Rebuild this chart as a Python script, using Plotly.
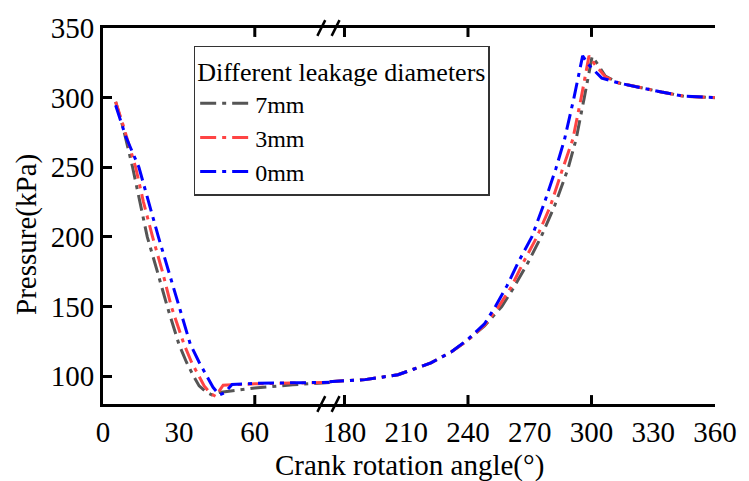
import plotly.graph_objects as go

# ---------------- data ----------------
series_names = ["7mm", "3mm", "0mm"]
series_colors = ["#555555", "#ff4444", "#0000ff"]

# left segment (0 - 90 deg)
left_angle_7mm = [5, 8, 11.7, 14.5, 17.5, 21.5, 25.4, 30, 33, 35.8, 38, 40.5, 43, 46, 60, 75, 90]
left_p_7mm = [297, 278, 250, 225, 200, 175, 150, 123, 110, 100, 93, 89, 86.5, 88.3, 91.5, 93.8, 95.5]
left_angle_3mm = [5, 8, 12.9, 16, 19.6, 23.5, 27, 32, 35, 37.8, 40, 42.5, 44.5, 47.5, 60, 75, 90]
left_p_3mm = [297, 280, 250, 225, 200, 175, 150, 123, 110, 100, 93, 87.5, 85.5, 93.5, 94.5, 95, 95.5]
left_angle_0mm = [5, 9, 14.2, 18, 21.9, 26, 30, 34.5, 38, 41, 43.5, 46, 48, 51, 60, 75, 90]
left_p_0mm = [294.5, 272, 250, 225, 200, 175, 150, 123, 110, 100, 92, 86.5, 88, 94, 94.8, 95.2, 95.6]

# right segment (172 - 360 deg)
right_angle_7mm = [172, 190, 206, 222, 232, 240, 248, 256.4, 262, 269.3, 275.5, 282, 288.6, 292.5, 296.5, 300.3, 303, 306.7, 313.3, 318, 334, 345, 360]
right_p_7mm = [96, 97.5, 101, 109.5, 117.5, 126, 136, 150, 163, 182, 200, 222, 249, 270, 300, 329.5, 324, 315.5, 310.5, 309, 304, 301, 300]
right_angle_3mm = [172, 190, 206, 222, 232, 240, 248, 254.9, 261, 267, 273.5, 280, 286, 290.9, 295, 298.8, 301.5, 306.7, 313.3, 318, 334, 345, 360]
right_p_3mm = [96, 97.5, 101, 109.5, 117.5, 126, 136.5, 150, 164, 182, 200, 222, 249, 270, 300, 330, 324, 315, 310.5, 309, 304, 301, 300]
right_angle_0mm = [172, 190, 206, 222, 232, 240, 248, 253.3, 259, 264.5, 271, 277, 282.7, 286.9, 291.5, 295.7, 299, 305, 313.3, 318, 334, 345, 360]
right_p_0mm = [96, 97.5, 101, 109.5, 117.5, 126.5, 137.5, 150, 165, 182, 200, 224, 249, 270, 300, 330, 323, 314, 310.5, 309, 304, 301, 300]

left_x = [left_angle_7mm, left_angle_3mm, left_angle_0mm]
left_y = [left_p_7mm, left_p_3mm, left_p_0mm]
right_x = [right_angle_7mm, right_angle_3mm, right_angle_0mm]
right_y = [right_p_7mm, right_p_3mm, right_p_0mm]

left_labels = [0, 30, 60]
left_major = [60]
right_labels = [180, 210, 240, 270, 300, 330, 360]
right_major = [180, 240, 300]
y_ticks = [100, 150, 200, 250, 300, 350]

# ---------------- layout geometry ----------------
W, H = 749, 481
L, R, T, B = 103, 25, 24, 77
PW, PH = W - L - R, H - T - B
split = (333 - L) / PW
left_range = [0, 89.6]
right_range = [172.8, 360]

def px(xp):
    return (xp - L) / PW

def py(yp):
    return (H - B - yp) / PH

FONT = "Liberation Serif"
dash = "16px,6px,4px,6px"
TICKFONT = dict(family=FONT, size=29, color="black")

fig = go.Figure()
for i, name in enumerate(series_names):
    fig.add_trace(go.Scatter(
        x=left_x[i], y=left_y[i], mode="lines", name=name, legendgroup=name,
        line=dict(color=series_colors[i], width=3, dash=dash),
        xaxis="x", yaxis="y", showlegend=True))
    fig.add_trace(go.Scatter(
        x=right_x[i], y=right_y[i], mode="lines", name=name, legendgroup=name,
        line=dict(color=series_colors[i], width=3, dash=dash),
        xaxis="x2", yaxis="y", showlegend=False))

line_style = dict(showgrid=False, zeroline=False, showline=True,
                  linecolor="black", linewidth=3)
tick_style = dict(ticks="inside", ticklen=9, tickwidth=3, tickcolor="black")

fig.update_layout(
    width=W, height=H,
    margin=dict(l=L, r=R, t=T, b=B, pad=0),
    paper_bgcolor="white", plot_bgcolor="white",
    font=dict(family=FONT, color="black"),
    xaxis=dict(domain=[0, split], range=left_range, anchor="y",
               tickmode="array", tickvals=left_labels, ticks="",
               tickfont=TICKFONT, mirror=True, **line_style),
    xaxis2=dict(domain=[split, 1], range=right_range, anchor="y",
                tickmode="array", tickvals=right_labels, ticks="",
                tickfont=TICKFONT, mirror=True, **line_style),
    yaxis=dict(range=[80, 350], tickmode="array", tickvals=y_ticks,
               tickfont=TICKFONT, mirror=False, anchor="x",
               **tick_style, **line_style),
    yaxis2=dict(range=[80, 350], tickmode="array", tickvals=y_ticks,
                overlaying="y", side="right", anchor="x2",
                showticklabels=False, mirror=False,
                **tick_style, **line_style),
    legend=dict(x=px(195), y=py(42), xanchor="left", yanchor="top",
                bgcolor="white", bordercolor="#333333", borderwidth=1.5,
                font=dict(family=FONT, size=24, color="black"),
                title=dict(text="Different leakage diameters",
                           font=dict(family=FONT, size=26, color="black")),
                itemwidth=50, tracegroupgap=0),
    showlegend=True,
)

# x-axis major tick marks (inside, bottom and top) placed on the axes' scales
for xref, vals in (("x", left_major), ("x2", right_major)):
    for v in vals:
        for y0, y1 in ((0, 9 / PH), (1, 1 - 9 / PH)):
            fig.add_shape(type="line", xref=xref, yref="paper",
                          x0=v, x1=v, y0=y0, y1=y1,
                          line=dict(color="black", width=3))

fig.add_annotation(text="Crank rotation angle(°)", xref="paper", yref="paper",
                   x=0.5, y=py(466), xanchor="center", yanchor="middle",
                   showarrow=False, font=dict(family=FONT, size=29, color="black"))
fig.add_annotation(text="Pressure(kPa)", xref="paper", yref="paper",
                   x=px(26), y=py(233), xanchor="center", yanchor="middle",
                   textangle=-90, showarrow=False,
                   font=dict(family=FONT, size=29, color="black"))

# axis break marks
for yb in (24, 404):
    for xc in (324.5, 339):
        fig.add_shape(type="line", xref="paper", yref="paper",
                      x0=px(xc - 4), y0=py(yb + 8), x1=px(xc + 4), y1=py(yb - 8),
                      line=dict(color="black", width=2.5))

fig.write_html("out.html")
